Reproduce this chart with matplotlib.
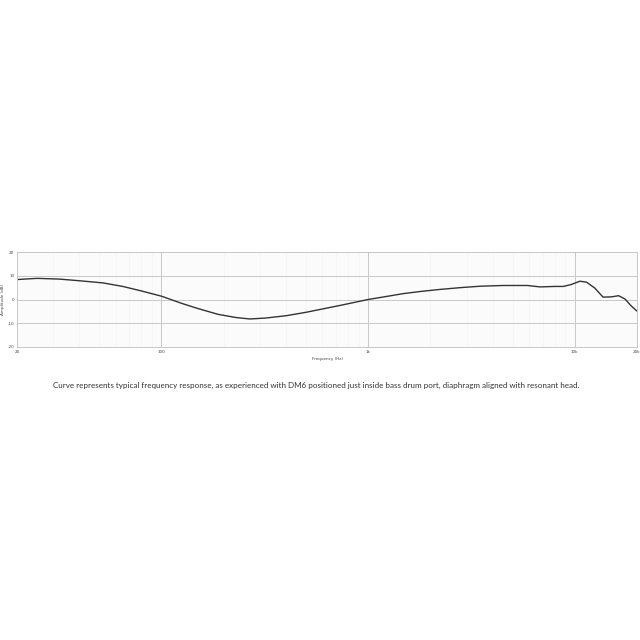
import matplotlib
matplotlib.use("Agg")
import matplotlib.pyplot as plt
from matplotlib.ticker import FixedLocator, NullFormatter, LogLocator

# frequency response
freq_hz = [20, 25, 32, 40, 52, 65, 80, 100, 125, 150, 189, 230, 268, 320, 403,
           500, 585, 750, 1000, 1250, 1486, 1800, 2200, 2800, 3500, 4500, 5900,
           6800, 8000, 8800, 9600, 10600, 11400, 12500, 13700, 15000, 16300,
           17500, 18700, 20000]
amp_db = [8.4, 8.9, 8.6, 7.9, 7.0, 5.5, 3.6, 1.4, -1.6, -3.8, -6.3, -7.6, -8.2,
          -7.8, -6.8, -5.4, -4.2, -2.3, 0.0, 1.4, 2.5, 3.4, 4.2, 5.0, 5.6, 5.9,
          5.9, 5.3, 5.5, 5.5, 6.3, 7.7, 7.3, 4.8, 1.0, 1.1, 1.6, 0.2, -2.6, -4.9]

x_ticks = [20, 100, 1000, 10000, 20000]
x_tick_labels = ["20", "100", "1k", "10k", "20k"]
y_ticks = [-20, -10, 0, 10, 20]
y_tick_labels = ["-20", "-10", "0", "10", "20"]

caption = ("Curve represents typical frequency response, as experienced with DM6 "
           "positioned just inside bass drum port, diaphragm aligned with resonant head.")

fig = plt.figure(figsize=(6.4, 6.4), dpi=100)
ax = fig.add_axes([17 / 640, 1 - 347 / 640, 620 / 640, 95 / 640])
ax.set_facecolor("#fbfbfb")

ax.plot(freq_hz, amp_db, color="#333333", linewidth=1.0,
        solid_joinstyle="round", solid_capstyle="round")

ax.set_xscale("log")
ax.set_xlim(20, 20000)
ax.set_ylim(-20, 20)
ax.xaxis.set_major_locator(FixedLocator(x_ticks))
ax.set_xticklabels(x_tick_labels)
ax.xaxis.set_minor_locator(LogLocator(base=10, subs=range(2, 10)))
ax.xaxis.set_minor_formatter(NullFormatter())
ax.set_yticks(y_ticks)
ax.set_yticklabels(y_tick_labels)

ax.grid(which="major", color="#c8c8c8", linewidth=0.7)
ax.grid(which="minor", axis="x", color="#f6f6f6", linewidth=0.6)
ax.tick_params(which="both", length=0, labelsize=3, colors="#444444", pad=2)

for s in ax.spines.values():
    s.set_color("#c8c8c8")
    s.set_linewidth(0.7)

ax.set_xlabel("Frequency (Hz)", fontsize=3, color="#444444", labelpad=2)
ax.set_ylabel("Amplitude (dB)", fontsize=3, color="#444444", labelpad=2)

fig.text(316 / 640, 1 - 385 / 640, caption, ha="center", va="center",
         fontsize=5.8, color="#333333", family="Lato")

fig.savefig("out.png", dpi=100, facecolor="white")
plt.close(fig)
